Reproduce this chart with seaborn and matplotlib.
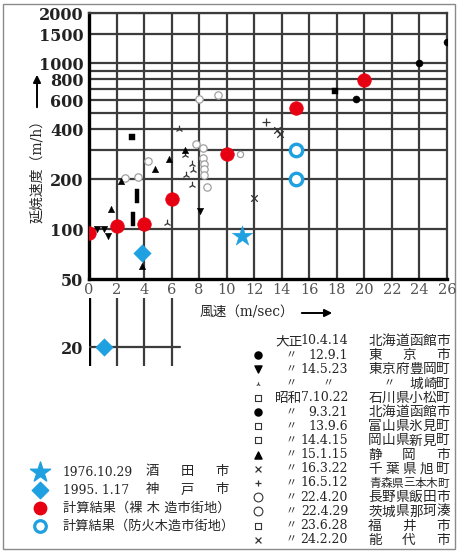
import numpy as np
import matplotlib
matplotlib.use("Agg")
import matplotlib.pyplot as plt
import seaborn as sns
from matplotlib.path import Path
from matplotlib.patches import Rectangle

sns.set_theme(style="white")
plt.rcParams['font.family'] = ['DejaVu Serif', 'Noto Sans CJK JP']
plt.rcParams['axes.unicode_minus'] = False

# ---------------- data ----------------
# calculated spread speeds
calc_wood_x = [0, 2, 4, 6, 10, 15, 20]
calc_wood_y = [95, 104, 107, 152, 283, 538, 790]
calc_fireproof_x = [15, 15]
calc_fireproof_y = [300, 200]

# observed fires
sakata_x, sakata_y = [11.1], [91]
kobe_x, kobe_y = [3.85], [72]
kobe_low_x, kobe_low_y = [1.1], [20]

circle_x = [26, 24, 19.4]
circle_y = [1350, 1000, 610]
square_x = [17.9, 3.1]
square_y = [680, 360]
bar_x = [3.5, 3.2]
bar_y = [158, 115]
tri_up_x = [6.97, 5.8, 4.8, 2.3, 1.6, 3.85]
tri_up_y = [300, 264, 230, 195, 132, 60]
tri_down_x = [0.6, 1.1, 1.4, 8.05]
tri_down_y = [100, 100, 91, 128]
kinosaki_x = [6.5, 7.0, 7.5, 7.55, 7.05, 7.5, 5.65]
kinosaki_y = [400, 280, 247, 227, 212, 184, 109]
ring_x = [8.0, 9.4, 7.8, 8.3, 8.3, 8.35, 8.35, 8.35, 8.6, 4.3, 2.6, 3.55]
ring_y = [610, 645, 326, 308, 268, 247, 230, 212, 179, 257, 203, 206]
open_sq_x, open_sq_y = [11.0], [283]
plus_x, plus_y = [12.85], [442]
cross_x = [13.65, 13.9, 12.0]
cross_y = [396, 374, 154]

x_ticks = list(range(0, 27, 2))
y_ticks = [50, 100, 200, 400, 600, 800, 1000, 1500, 2000]
y_grid = [100, 200, 300, 400, 500, 600, 700, 800, 900, 1000, 1500, 2000]

legend_marks = [None, 'o', 'v', '2', 's_open', 'o', 's_open', 's_open', '^', 'x', '+', 'o_open', 'o_open', 's_open', 'x']
legend_era = ['大正', '〃', '〃', '〃', '昭和', '〃', '〃', '〃', '〃', '〃', '〃', '〃', '〃', '〃', '〃']
legend_date = ['10.4.14', '12.9.1', '14.5.23', '〃', '7.10.22', '9.3.21', '13.9.6', '14.4.15',
               '15.1.15', '16.3.22', '16.5.12', '22.4.20', '22.4.29', '23.6.28', '24.2.20']
legend_place = ['北海道函館市', '東京市', '東京府豊岡町', '　〃　城崎町', '石川県小松町', '北海道函館市',
                '富山県氷見町', '岡山県新見町', '静岡市', '千葉県旭町', '青森県三本木町', '長野県飯田市',
                '茨城県那珂湊', '福井市', '能代市']

RED = '#e60012'
BLUE = '#1fa0e0'
GRID = '#3c3c3c'

W, H = 460, 553
fig = plt.figure(figsize=(W / 100, H / 100), dpi=100)


def fx(px):
    return px / W


def fy(py):
    return 1 - py / H


# ---------------- main axes ----------------
ax = fig.add_axes([fx(89), fy(279), fx(447) - fx(89), fy(13.4) - fy(279)])
ax.set_yscale('log')
ax.set_xlim(0, 26)
ax.set_ylim(50, 2000)
for yv in y_grid:
    ax.axhline(yv, color=GRID, lw=1.6, zorder=1)
for xv in x_ticks[1:-1]:
    ax.axvline(xv, color=GRID, lw=1.6, zorder=1)
for side in ['left', 'bottom']:
    ax.spines[side].set_linewidth(2.4)
    ax.spines[side].set_color('black')
for side in ['top', 'right']:
    ax.spines[side].set_linewidth(1.6)
    ax.spines[side].set_color(GRID)
ax.yaxis.set_minor_locator(matplotlib.ticker.NullLocator())
ax.set_yticks(y_ticks)
ax.set_yticklabels([str(v) for v in y_ticks], fontsize=11.5, fontweight='bold', family='DejaVu Serif',
                   color='#222222')
ax.set_xticks(x_ticks)
ax.set_xticklabels([str(v) for v in x_ticks], fontsize=10.5, color='#555555', family='DejaVu Serif')
ax.tick_params(axis='both', length=0)
ax.tick_params(axis='y', pad=4)
ax.tick_params(axis='x', pad=3)
ax.set_xlabel('')
ax.set_ylabel('')

bar_marker = Path([(-0.38, -1), (0.38, -1), (0.38, 1), (-0.38, 1), (-0.38, -1)],
                  [Path.MOVETO, Path.LINETO, Path.LINETO, Path.LINETO, Path.CLOSEPOLY])

sns.scatterplot(x=ring_x, y=ring_y, ax=ax, marker='o', s=28, facecolor='white',
                edgecolor='#a0a0a0', linewidth=0.9, zorder=3, legend=False)
sns.scatterplot(x=open_sq_x, y=open_sq_y, ax=ax, marker='o', s=20, facecolor='white',
                edgecolor='#a0a0a0', linewidth=0.9, zorder=3, legend=False)
sns.scatterplot(x=kinosaki_x, y=kinosaki_y, ax=ax, marker='2', s=30, color='#333333',
                linewidth=0.9, zorder=3, legend=False)
sns.scatterplot(x=tri_up_x, y=tri_up_y, ax=ax, marker='^', s=22, color='black',
                edgecolor='black', linewidth=0.3, zorder=3, legend=False)
sns.scatterplot(x=tri_down_x, y=tri_down_y, ax=ax, marker='v', s=22, color='black',
                edgecolor='black', linewidth=0.3, zorder=3, legend=False)
sns.scatterplot(x=circle_x, y=circle_y, ax=ax, marker='o', s=26, color='black',
                edgecolor='black', linewidth=0.3, zorder=3, legend=False)
sns.scatterplot(x=square_x, y=square_y, ax=ax, marker='s', s=20, color='black',
                edgecolor='black', linewidth=0.3, zorder=3, legend=False)
sns.scatterplot(x=bar_x, y=bar_y, ax=ax, marker=bar_marker, s=88, color='black',
                edgecolor='black', linewidth=0.3, zorder=3, legend=False)
sns.scatterplot(x=plus_x, y=plus_y, ax=ax, marker='+', s=28, color='#333333',
                linewidth=0.9, zorder=3, legend=False)
sns.scatterplot(x=cross_x, y=cross_y, ax=ax, marker='x', s=22, color='#333333',
                linewidth=0.9, zorder=3, legend=False)
sns.scatterplot(x=calc_wood_x, y=calc_wood_y, ax=ax, marker='o', s=95, color=RED,
                edgecolor=RED, linewidth=0.5, zorder=5, legend=False)
sns.scatterplot(x=calc_fireproof_x, y=calc_fireproof_y, ax=ax, marker='o', s=80, facecolor='white',
                edgecolor=BLUE, linewidth=2.4, zorder=5, legend=False)
sns.scatterplot(x=sakata_x, y=sakata_y, ax=ax, marker='*', s=240, color=BLUE,
                edgecolor=BLUE, linewidth=0.3, zorder=5, legend=False)
sns.scatterplot(x=kobe_x, y=kobe_y, ax=ax, marker='D', s=80, color=BLUE,
                edgecolor=BLUE, linewidth=0.3, zorder=5, legend=False)

# ---------------- low-value inset (20 m/h) ----------------
sax = fig.add_axes([fx(89), fy(366), fx(447) - fx(89), fy(298) - fy(366)])
sax.set_xlim(0, 26)
sax.set_ylim(20 - 0.279 * 10, 20 + 0.721 * 10)
for s in sax.spines.values():
    s.set_visible(False)
sax.set_facecolor('none')
sax.axvline(0, color='black', lw=2.4, zorder=1)
for xv in [2, 4, 6]:
    sax.axvline(xv, color=GRID, lw=1.6, zorder=1)
sax.plot([0, 6.6], [20, 20], color=GRID, lw=1.6, zorder=1)
sax.set_xticks([])
sax.set_yticks([20])
sax.set_yticklabels(['20'], fontsize=11.5, fontweight='bold', family='DejaVu Serif', color='#222222')
sax.tick_params(axis='y', length=0, pad=4)
sns.scatterplot(x=kobe_low_x, y=kobe_low_y, ax=sax, marker='D', s=80, color=BLUE,
                edgecolor=BLUE, linewidth=0.3, zorder=5, legend=False)

# ---------------- annotation layer in pixel units ----------------
lax = fig.add_axes([0, 0, 1, 1])
lax.set_xlim(0, W)
lax.set_ylim(H, 0)
lax.axis('off')
lax.set_zorder(-1)
lax.add_patch(Rectangle((3.5, 3.5), 452, 545, fill=False, edgecolor='#8a8a8a', lw=1.0))

# axis titles
lax.text(200, 313, '風速（m/sec）', ha='left', va='center', fontsize=9.8)
lax.annotate('', xy=(335, 313), xytext=(299, 313),
             arrowprops=dict(arrowstyle='-|>', color='black', lw=1.4, mutation_scale=11))
lax.text(37, 168, '延焼速度（m/h）', rotation=90, ha='center', va='center', fontsize=10)
lax.annotate('', xy=(37, 72), xytext=(37, 110),
             arrowprops=dict(arrowstyle='-|>', color='black', lw=1.4, mutation_scale=11))

# right-hand key of historical fires
row0, drow = 341, 14.2
for i in range(len(legend_date)):
    y = row0 + i * drow
    m = legend_marks[i]
    if m == 'o':
        lax.scatter([258], [y], marker='o', s=26, color='black')
    elif m == 'v':
        lax.scatter([258], [y], marker='v', s=26, color='black')
    elif m == '^':
        lax.scatter([258], [y], marker='^', s=26, color='black')
    elif m == '2':
        lax.scatter([258], [y], marker='2', s=10, color='#444444', linewidths=0.8)
    elif m == 's_open':
        lax.scatter([258], [y], marker='s', s=22, facecolor='white', edgecolor='#333333', linewidths=0.8)
    elif m == 'o_open':
        lax.scatter([258], [y], marker='o', s=40, facecolor='white', edgecolor='#333333', linewidths=0.8)
    elif m == 'x':
        lax.scatter([258], [y], marker='x', s=18, color='#333333', linewidths=0.9)
    elif m == '+':
        lax.scatter([258], [y], marker='+', s=18, color='#333333', linewidths=0.9)
    era = legend_era[i]
    if era == '〃':
        lax.text(291, y, era, ha='center', va='center', fontsize=8, color='#333333')
    else:
        lax.text(275, y, era, ha='left', va='center', fontsize=9.8)
    if legend_date[i] == '〃':
        lax.text(328, y, '〃', ha='center', va='center', fontsize=8, color='#333333')
    else:
        lax.text(348, y, legend_date[i], ha='right', va='center', fontsize=9)
    chars = list(legend_place[i])
    n = len(chars)
    fs = 9.8 if n <= 6 else 8.4
    centers = np.linspace(375, 443, n) if n > 1 else [409]
    for c, cx in zip(chars, centers):
        if c == '　':
            continue
        lax.text(cx, y, c, ha='center', va='center', fontsize=(8 if c == '〃' else fs))

# left-hand key
ly = [472, 490, 508, 526]
lax.scatter([40], [ly[0]], marker='*', s=230, color=BLUE)
lax.scatter([40], [ly[1]], marker='D', s=70, color=BLUE)
lax.scatter([40], [ly[2]], marker='o', s=80, color=RED)
lax.scatter([40], [ly[3]], marker='o', s=70, facecolor='white', edgecolor=BLUE, linewidths=2.3)
lax.text(63, ly[0], '1976.10.29', ha='left', va='center', fontsize=8.8)
lax.text(63, ly[1], '1995. 1.17', ha='left', va='center', fontsize=8.8)
for c, cx in zip('酒田市', [152, 187, 222]):
    lax.text(cx, ly[0], c, ha='center', va='center', fontsize=9.6)
for c, cx in zip('神戸市', [152, 187, 222]):
    lax.text(cx, ly[1], c, ha='center', va='center', fontsize=9.6)
lax.text(63, ly[2], '計算結果（裸 木 造市街地）', ha='left', va='center', fontsize=9.5)
lax.text(63, ly[3], '計算結果（防火木造市街地）', ha='left', va='center', fontsize=9.5)

fig.savefig('out.png', dpi=100, facecolor='white')
